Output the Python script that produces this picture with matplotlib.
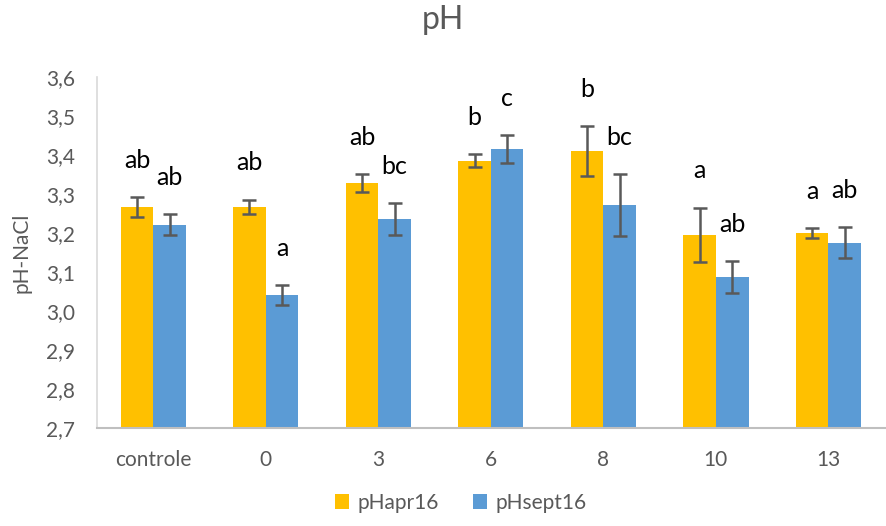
import matplotlib.pyplot as plt
import numpy as np

plt.rcParams['font.family'] = ['Lato', 'DejaVu Sans']

categorias = ['controle', '0', '3', '6', '8', '10', '13']
ph_apr16 = [3.267, 3.267, 3.327, 3.385, 3.410, 3.195, 3.200]
ph_sept16 = [3.221, 3.041, 3.235, 3.414, 3.271, 3.087, 3.175]
erro_apr16 = [0.025, 0.018, 0.023, 0.017, 0.064, 0.070, 0.012]
erro_sept16 = [0.027, 0.026, 0.041, 0.036, 0.080, 0.040, 0.040]
letras_apr16 = ['ab', 'ab', 'ab', 'b', 'b', 'a', 'a']
letras_sept16 = ['ab', 'a', 'bc', 'c', 'bc', 'ab', 'ab']

amarelo = '#FFC000'
azul = '#5B9BD5'
cinza = '#595959'

fig = plt.figure(figsize=(8.86, 5.26), dpi=100)
ax = fig.add_axes([0.1095, 0.186, 0.889, 0.668])

x = np.arange(len(categorias))
w = 0.29
ax.bar(x - w / 2, ph_apr16, w, color=amarelo, label='pHapr16')
ax.bar(x + w / 2, ph_sept16, w, color=azul, label='pHsept16')
ax.errorbar(x - w / 2, ph_apr16, yerr=erro_apr16, fmt='none', ecolor=cinza,
            elinewidth=1.8, capsize=5, capthick=1.8)
ax.errorbar(x + w / 2, ph_sept16, yerr=erro_sept16, fmt='none', ecolor=cinza,
            elinewidth=1.8, capsize=5, capthick=1.8)

for i in range(len(categorias)):
    ax.text(x[i] - w / 2, ph_apr16[i] + erro_apr16[i] + 0.065, letras_apr16[i],
            ha='center', va='bottom', fontsize=18, color='black')
    ax.text(x[i] + w / 2, ph_sept16[i] + erro_sept16[i] + 0.065, letras_sept16[i],
            ha='center', va='bottom', fontsize=18, color='black')

ax.set_ylim(2.7, 3.6)
ax.set_xlim(-0.5, len(categorias) - 0.5)
ax.set_yticks(np.arange(2.7, 3.61, 0.1))
ax.set_yticklabels([f'{v:.1f}'.replace('.', ',') for v in np.arange(2.7, 3.61, 0.1)])
ax.set_xticks(x)
ax.set_xticklabels(categorias)
ax.tick_params(length=0, labelsize=15, labelcolor=cinza)
ax.tick_params(axis='y', pad=16)
ax.tick_params(axis='x', pad=16)

for s in ['top', 'right']:
    ax.spines[s].set_visible(False)
ax.spines['left'].set_color('#D9D9D9')
ax.spines['bottom'].set_color('#BFBFBF')
ax.spines['left'].set_linewidth(1.2)
ax.spines['bottom'].set_linewidth(1.5)

ax.set_ylabel('pH-NaCl', fontsize=15, color=cinza, labelpad=10)
fig.suptitle('pH', fontsize=23, color=cinza, y=0.99)

fig.legend(loc='lower center', bbox_to_anchor=(0.52, -0.01), ncol=2, frameon=False,
           fontsize=15, handlelength=0.7, handleheight=0.7, handletextpad=0.4,
           columnspacing=1.6, labelcolor=cinza)

fig.savefig('out.png', dpi=100)
